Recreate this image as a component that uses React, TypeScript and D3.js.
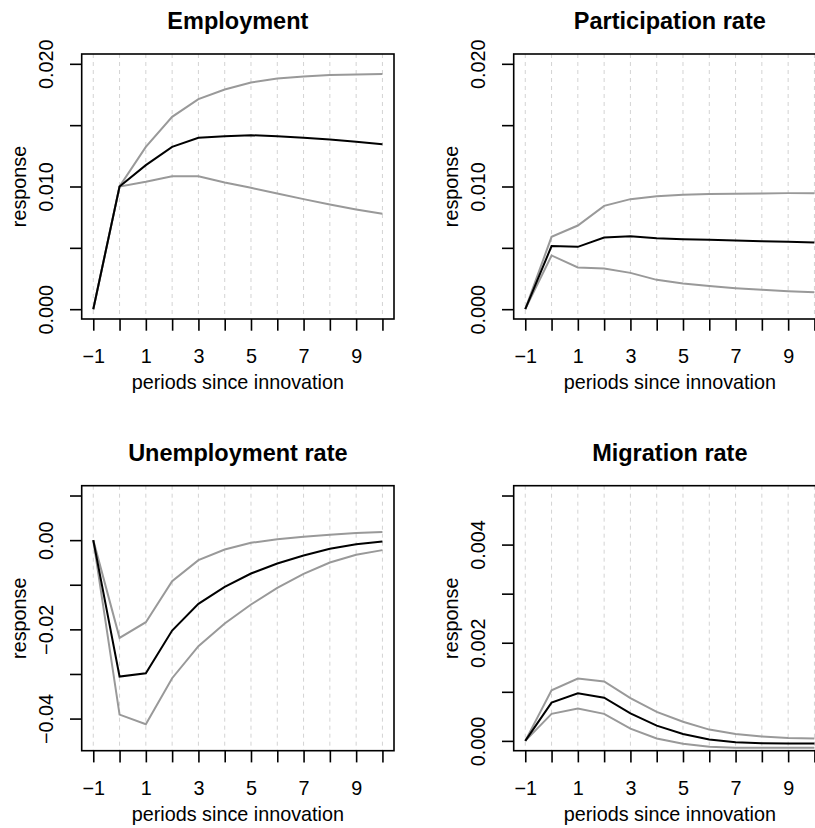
import React, { useEffect, useRef } from "react";
import * as d3 from "d3";

// periods since innovation
const periods = [-1, 0, 1, 2, 3, 4, 5, 6, 7, 8, 9, 10];
const xTickValues = [-1, 1, 3, 5, 7, 9];

// Employment
const empMean = [0, 0.01, 0.01174, 0.01323, 0.01397, 0.0141, 0.01418, 0.0141, 0.01397, 0.01383, 0.01364, 0.01345];
const empUpper = [0, 0.01, 0.01323, 0.01568, 0.01712, 0.01791, 0.01848, 0.0188, 0.01897, 0.01908, 0.01913, 0.01916];
const empLower = [0, 0.01, 0.01038, 0.01084, 0.01084, 0.01033, 0.00989, 0.00943, 0.00897, 0.00853, 0.00813, 0.00777];

// Participation rate
const partMean = [0, 0.00514, 0.00508, 0.00584, 0.00595, 0.00579, 0.00571, 0.00565, 0.0056, 0.00554, 0.00549, 0.00543];
const partUpper = [0, 0.0059, 0.00682, 0.00842, 0.00897, 0.00921, 0.00932, 0.00938, 0.0094, 0.00943, 0.00946, 0.00946];
const partLower = [0, 0.00438, 0.0034, 0.00332, 0.00296, 0.00239, 0.00209, 0.00188, 0.00171, 0.00158, 0.00147, 0.00139];

// Unemployment rate
const unempMean = [0, -0.03058, -0.02983, -0.02026, -0.01428, -0.01047, -0.00748, -0.00523, -0.00344, -0.00194, -0.0009, -0.0003];
const unempUpper = [0, -0.02191, -0.01839, -0.0092, -0.00449, -0.00209, -0.0006, 0.00022, 0.00075, 0.0012, 0.00157, 0.0018];
const unempLower = [0, -0.0391, -0.04127, -0.03095, -0.02378, -0.01869, -0.01443, -0.01069, -0.00755, -0.00501, -0.00329, -0.00224];

// Migration rate
const migMean = [0, 0.00078, 0.00097, 0.00088, 0.00056, 0.00031, 0.00014, 0.00003, -0.00003, -0.00005, -0.000055, -0.000055];
const migUpper = [0, 0.00103, 0.00127, 0.00121, 0.00087, 0.00059, 0.00039, 0.00023, 0.00014, 0.00009, 0.00006, 0.00005];
const migLower = [0, 0.00055, 0.00066, 0.00055, 0.00025, 0.00005, -0.00006, -0.00012, -0.00014, -0.00014, -0.00014, -0.00014];

const titles = ["Employment", "Participation rate", "Unemployment rate", "Migration rate"];
const ylims = [[0, 0.02], [0, 0.02], [-0.045, 0.01], [0, 0.005]];
const yTickSets = [
  [0, 0.005, 0.01, 0.015, 0.02],
  [0, 0.005, 0.01, 0.015, 0.02],
  [-0.04, -0.03, -0.02, -0.01, 0, 0.01],
  [0, 0.001, 0.002, 0.003, 0.004, 0.005],
];
const yLabelSets = [
  ["0.000", "", "0.010", "", "0.020"],
  ["0.000", "", "0.010", "", "0.020"],
  ["\u22120.04", "", "\u22120.02", "", "0.00", ""],
  ["0.000", "", "0.002", "", "0.004", ""],
];

const FONT = "'Liberation Sans', Arial, Helvetica, sans-serif";
const FS = "19.8px";

export default function App() {
  const ref = useRef<SVGSVGElement>(null);

  useEffect(() => {
    const svg = d3.select(ref.current);
    svg.selectAll("*").remove();

    const series = [
      [empUpper, empMean, empLower],
      [partUpper, partMean, partLower],
      [unempUpper, unempMean, unempLower],
      [migUpper, migMean, migLower],
    ];

    const boxW = 312.3;
    const boxH = 265;

    titles.forEach((title, i) => {
      const left = 81.7 + (i % 2) * 432;
      const top = 54 + Math.floor(i / 2) * 431.7;
      const bottom = top + boxH;
      const g = svg.append("g");

      // R style 4% axis extension
      const xpad = 0.04 * (10 - -1);
      const x = d3.scaleLinear().domain([-1 - xpad, 10 + xpad]).range([left, left + boxW]);
      const [lo, hi] = ylims[i];
      const ypad = 0.04 * (hi - lo);
      const y = d3.scaleLinear().domain([lo - ypad, hi + ypad]).range([bottom, top]);

      // dashed vertical guides
      g.selectAll(".grid")
        .data(periods)
        .enter()
        .append("line")
        .attr("x1", (d) => x(d))
        .attr("x2", (d) => x(d))
        .attr("y1", top)
        .attr("y2", bottom)
        .attr("stroke", "#d3d3d3")
        .attr("stroke-width", 1)
        .attr("stroke-dasharray", "4,4");

      const line = d3
        .line<number>()
        .x((d, j) => x(periods[j]))
        .y((d) => y(d));

      const [upper, mean, lower] = series[i];
      [upper, lower].forEach((s) => {
        g.append("path").datum(s).attr("d", line).attr("fill", "none").attr("stroke", "#999999").attr("stroke-width", 2);
      });
      g.append("path").datum(mean).attr("d", line).attr("fill", "none").attr("stroke", "#000").attr("stroke-width", 2);

      // box
      g.append("rect")
        .attr("x", left)
        .attr("y", top)
        .attr("width", boxW)
        .attr("height", boxH)
        .attr("fill", "none")
        .attr("stroke", "#000")
        .attr("stroke-width", 1.6);

      // x axis
      const xAxis = d3
        .axisBottom(x)
        .tickValues(periods)
        .tickSize(11.7)
        .tickSizeOuter(0)
        .tickFormat((d) => {
          const v = d as number;
          return xTickValues.includes(v) ? (v < 0 ? "\u2212" + Math.abs(v) : String(v)) : "";
        });
      const xg = g.append("g").attr("transform", `translate(0,${bottom})`).call(xAxis);
      xg.select(".domain").remove();
      xg.selectAll("line").attr("stroke", "#000").attr("stroke-width", 1.6);
      xg.selectAll("text")
        .attr("y", 44)
        .attr("dy", 0)
        .attr("fill", "#000")
        .style("font-family", FONT)
        .style("font-size", FS);

      // y axis
      const labels = yLabelSets[i];
      const yAxis = d3
        .axisLeft(y)
        .tickValues(yTickSets[i])
        .tickSize(11.7)
        .tickSizeOuter(0)
        .tickFormat((d, j) => labels[j]);
      const yg = g.append("g").attr("transform", `translate(${left},0)`).call(yAxis);
      yg.select(".domain").remove();
      yg.selectAll("line").attr("stroke", "#000").attr("stroke-width", 1.6);
      yg.selectAll("text")
        .attr("transform", "rotate(-90)")
        .attr("x", 0)
        .attr("y", -28.5)
        .attr("dy", 0)
        .attr("text-anchor", "middle")
        .attr("fill", "#000")
        .style("font-family", FONT)
        .style("font-size", FS);

      // titles and axis labels
      g.append("text")
        .attr("x", left + boxW / 2)
        .attr("y", top - 25)
        .attr("text-anchor", "middle")
        .style("font-family", FONT)
        .style("font-size", "23.5px")
        .style("font-weight", "bold")
        .text(title);

      g.append("text")
        .attr("x", left + boxW / 2)
        .attr("y", bottom + 70)
        .attr("text-anchor", "middle")
        .style("font-family", FONT)
        .style("font-size", FS)
        .text("periods since innovation");

      g.append("text")
        .attr("transform", `translate(${left - 56},${top + boxH / 2}) rotate(-90)`)
        .attr("text-anchor", "middle")
        .style("font-family", FONT)
        .style("font-size", FS)
        .text("response");
    });
  }, []);

  return (
    <svg
      ref={ref}
      width={815}
      height={828}
      style={{ position: "absolute", left: 0, top: 0, background: "#fff" }}
    />
  );
}
